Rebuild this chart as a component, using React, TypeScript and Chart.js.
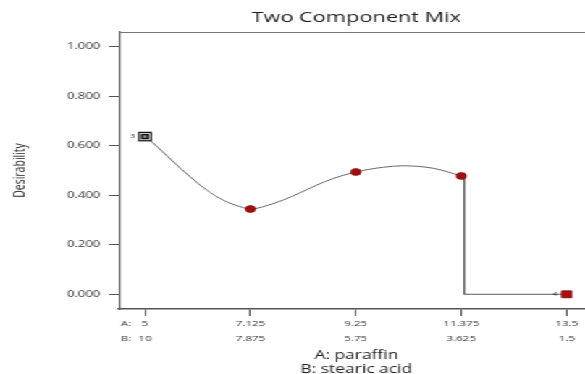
import React, { useEffect, useRef } from 'react';
import { Chart, registerables } from 'chart.js';

Chart.register(...registerables);

// The reference image is horizontally stretched; draw at a narrower width and stretch via CSS.
const W = 404;
const H = 374;
const S = 585 / W;

const A_TICKS = [5, 7.125, 9.25, 11.375, 13.5];
const A_LABELS = ['5', '7.125', '9.25', '11.375', '13.5'];
const B_LABELS = ['10', '7.875', '5.75', '3.625', '1.5'];
const Y_TICKS = [0, 0.2, 0.4, 0.6, 0.8, 1.0];

const START_A = [5];
const START_D = [0.637];
const RUN_A = [7.125, 9.25, 11.375];
const RUN_D = [0.344, 0.494, 0.478];
const END_A = [13.5];
const END_D = [0];

const CURVE_A = [5, 5.135, 5.571, 5.907, 6.244, 6.579, 6.915, 7.125, 7.453, 7.788, 8.124, 8.461, 8.797, 9.25, 9.8, 10.2, 10.81, 11.375];
const CURVE_D = [0.637, 0.616, 0.535, 0.475, 0.421, 0.38, 0.354, 0.344, 0.358, 0.381, 0.41, 0.441, 0.468, 0.494, 0.513, 0.519, 0.509, 0.478];

const DROP_A = [11.375, 11.435, 11.435, 13.5];
const DROP_D = [0.478, 0.47, 0, 0];

const pts = (xs: number[], ys: number[]) => xs.map((x, i) => ({ x, y: ys[i] }));

const FONT = '"Open Sans", "Noto Sans", sans-serif';

const textPlugin = {
  id: 'texts',
  afterDraw(chart: any) {
    const { ctx, chartArea, scales } = chart;
    ctx.save();
    // top frame line
    ctx.strokeStyle = '#777';
    ctx.lineWidth = 1.2;
    ctx.beginPath();
    ctx.moveTo(chartArea.left, chartArea.top + 0.5);
    ctx.lineTo(chartArea.right, chartArea.top + 0.5);
    ctx.stroke();

    const cx = (chartArea.left + chartArea.right) / 2 + 3;
    ctx.fillStyle = '#1e1e1e';
    ctx.textAlign = 'center';
    ctx.textBaseline = 'middle';
    ctx.font = `15px ${FONT}`;
    ctx.fillText('Two Component Mix', cx, 18);

    ctx.font = `12px ${FONT}`;
    ctx.fillText('A: paraffin', cx, 355.5);
    ctx.fillText('B: stearic acid', cx, 370);

    // component prefixes on the tick rows
    ctx.fillStyle = '#333';
    ctx.textAlign = 'left';
    ctx.font = `8px ${FONT}`;
    ctx.fillText('A:', chartArea.left + 1.4, 323.5);
    ctx.fillText('B:', chartArea.left + 1.4, 338.5);

    // run labels
    ctx.font = `5.5px ${FONT}`;
    ctx.textAlign = 'right';
    ctx.fillStyle = '#222';
    ctx.fillText('3', scales.x.getPixelForValue(START_A[0]) - 7, scales.y.getPixelForValue(START_D[0]));
    ctx.fillText('4', scales.x.getPixelForValue(END_A[0]) - 6.5, scales.y.getPixelForValue(END_D[0]));
    ctx.restore();
  },
};

export default function App() {
  const ref = useRef<HTMLCanvasElement | null>(null);

  useEffect(() => {
    if (!ref.current) return;
    const chart = new Chart(ref.current, {
      type: 'scatter',
      data: {
        datasets: [
          {
            data: pts(START_A, START_D),
            pointStyle: 'rect',
            pointRadius: 1.8,
            backgroundColor: '#888',
            borderWidth: 0,
            showLine: false,
            order: 1,
            clip: false,
          },
          {
            data: pts(START_A, START_D),
            pointStyle: 'rect',
            pointRadius: 3.9,
            backgroundColor: '#111',
            borderWidth: 0,
            showLine: false,
            order: 2,
            clip: false,
          },
          {
            data: pts(START_A, START_D),
            pointStyle: 'rect',
            pointRadius: 5.1,
            backgroundColor: '#f4f4f4',
            borderWidth: 0,
            showLine: false,
            order: 3,
            clip: false,
          },
          {
            data: pts(START_A, START_D),
            pointStyle: 'rect',
            pointRadius: 6.8,
            backgroundColor: '#111',
            borderWidth: 0,
            showLine: false,
            order: 4,
            clip: false,
          },
          {
            data: pts(RUN_A, RUN_D),
            pointStyle: 'circle',
            pointRadius: 3.5,
            backgroundColor: '#a30d0d',
            borderColor: '#7a0505',
            borderWidth: 0.6,
            showLine: false,
            order: 5,
            clip: false,
          },
          {
            data: pts(END_A, END_D),
            pointStyle: 'rect',
            pointRadius: 4.9,
            backgroundColor: '#b00c0c',
            borderColor: '#700000',
            borderWidth: 0.8,
            showLine: false,
            order: 6,
            clip: false,
          },
          {
            data: pts(CURVE_A, CURVE_D),
            showLine: true,
            borderColor: '#666',
            borderWidth: 1,
            pointRadius: 0,
            cubicInterpolationMode: 'monotone',
            order: 10,
          },
          {
            data: pts(DROP_A, DROP_D),
            showLine: true,
            borderColor: '#5a5a5a',
            borderWidth: 1,
            pointRadius: 0,
            tension: 0,
            order: 11,
          },
        ],
      },
      options: {
        responsive: false,
        animation: false,
        events: [],
        layout: { autoPadding: false, padding: { top: 32, left: 0, right: 0, bottom: 0 } },
        plugins: {
          legend: { display: false },
          title: { display: false },
          tooltip: { enabled: false },
        },
        scales: {
          x: {
            type: 'linear',
            min: 4.476,
            max: 13.869,
            afterFit: (s: any) => {
              s.height = 65;
              s.paddingLeft = 0;
              s.paddingRight = 0;
            },
            afterBuildTicks: (s: any) => {
              s.ticks = A_TICKS.map((v) => ({ value: v }));
            },
            grid: {
              drawOnChartArea: false,
              drawTicks: true,
              tickLength: 7,
              tickColor: '#555',
              tickWidth: 1,
            },
            border: { display: true, color: '#555', width: 1.5 },
            ticks: {
              autoSkip: false,
              maxRotation: 0,
              minRotation: 0,
              padding: 0,
              color: '#333',
              font: { family: FONT, size: 8, lineHeight: 1.875 },
              callback: (v: any) => {
                const i = A_TICKS.findIndex((t) => Math.abs(t - Number(v)) < 1e-6);
                return i >= 0 ? [A_LABELS[i], B_LABELS[i]] : '';
              },
            },
          },
          y: {
            type: 'linear',
            min: -0.0594,
            max: 1.0594,
            afterFit: (s: any) => {
              s.width = 119 / S;
            },
            afterBuildTicks: (s: any) => {
              s.ticks = Y_TICKS.map((v) => ({ value: v }));
            },
            grid: {
              drawOnChartArea: false,
              drawTicks: true,
              tickLength: 7,
              tickColor: '#555',
              tickWidth: 1,
            },
            border: { display: true, color: '#555', width: 1.2 },
            ticks: {
              padding: 6,
              color: '#333',
              font: { family: FONT, size: 9 },
              callback: (v: any) => Number(v).toFixed(3),
            },
            title: {
              display: true,
              text: 'Desirability',
              color: '#1e1e1e',
              font: { family: FONT, size: 10.5 },
              padding: { top: 8, bottom: 0 },
            },
          },
        },
      },
      plugins: [textPlugin],
    } as any);
    return () => chart.destroy();
  }, []);

  return (
    <div
      style={{
        position: 'absolute',
        left: 0,
        top: 0,
        width: W,
        height: H,
        transform: `scaleX(${S})`,
        transformOrigin: '0 0',
        background: '#fff',
      }}
    >
      <canvas ref={ref} width={W} height={H} style={{ width: W, height: H, display: 'block' }} />
    </div>
  );
}
